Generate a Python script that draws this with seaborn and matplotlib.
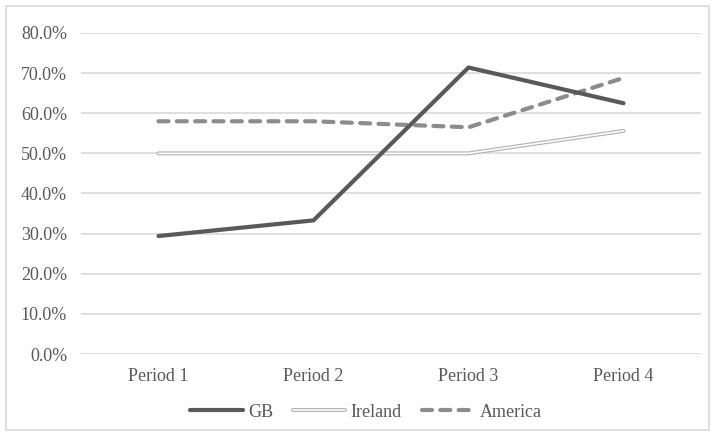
import matplotlib
matplotlib.use("Agg")
import matplotlib.pyplot as plt
from matplotlib.patches import Rectangle
from matplotlib.lines import Line2D
from matplotlib.ticker import FuncFormatter
import pandas as pd
import seaborn as sns

periods = ["Period 1", "Period 2", "Period 3", "Period 4"]
gb = [29.4, 33.3, 71.4, 62.5]
ireland = [50.0, 50.0, 50.0, 55.6]
america = [58.0, 58.0, 56.5, 68.8]
y_ticks = [0, 10, 20, 30, 40, 50, 60, 70, 80]

sns.set_theme(style="white")
plt.rcParams["font.family"] = ["Liberation Serif", "DejaVu Serif"]

df = pd.DataFrame({"x": list(range(len(periods))) * 3,
                   "value": gb + ireland + america,
                   "series": ["GB"] * 4 + ["Ireland"] * 4 + ["America"] * 4})

fig = plt.figure(figsize=(7.15, 4.36), dpi=100)
ax = fig.add_axes([81 / 715, (436 - 354) / 436, 620 / 715, 321 / 436])

text_col = "#595959"
grid_col = "#d9d9d9"
fs = 13

for t in y_ticks:
    ax.axhline(t, color=grid_col, lw=1.2, zorder=0)

gb_df = df[df.series == "GB"]
ir_df = df[df.series == "Ireland"]
am_df = df[df.series == "America"]

am_dashes = [2.4, 2.0]

sns.lineplot(data=ir_df, x="x", y="value", ax=ax, color="#b3b3b3", lw=2.9,
             solid_capstyle="round", zorder=2, legend=False)
sns.lineplot(data=ir_df, x="x", y="value", ax=ax, color="white", lw=1.2,
             solid_capstyle="round", zorder=2.1, legend=False)
sns.lineplot(data=am_df, x="x", y="value", ax=ax, color="#8c8c8c", lw=3.0,
             dash_capstyle="round", zorder=3, legend=False)
ax.lines[-1].set_dashes(am_dashes)
sns.lineplot(data=gb_df, x="x", y="value", ax=ax, color="#595959", lw=3.0,
             solid_capstyle="round", zorder=4, legend=False)

ax.set_xlim(-0.5, len(periods) - 0.5)
ax.set_ylim(0, 80)
ax.set_yticks(y_ticks)
ax.yaxis.set_major_formatter(FuncFormatter(lambda v, p: f"{v:.1f}%"))
ax.set_xticks(range(len(periods)))
ax.set_xticklabels(periods)
ax.tick_params(axis="both", colors=text_col, labelsize=fs, length=0)
ax.tick_params(axis="y", pad=10)
ax.tick_params(axis="x", pad=10)
ax.set_xlabel("")
ax.set_ylabel("")
for s in ax.spines.values():
    s.set_visible(False)

# outer chart border
fig.patches.append(Rectangle((6 / 715, 6 / 436), 703 / 715, 424 / 436,
                             transform=fig.transFigure, fill=False,
                             edgecolor=grid_col, lw=1.2))

h_gb = Line2D([], [], color="#595959", lw=3.0, solid_capstyle="round")
h_ir = (Line2D([], [], color="#b3b3b3", lw=2.9, solid_capstyle="round"),
        Line2D([], [], color="white", lw=1.2, solid_capstyle="round"))
h_am = Line2D([], [], color="#8c8c8c", lw=3.0, dash_capstyle="round",
              dashes=am_dashes)
leg = fig.legend([h_gb, h_ir, h_am], ["GB", "Ireland", "America"],
                 loc="center", bbox_to_anchor=(366 / 715, 1 - 412 / 436),
                 ncol=3, frameon=False, fontsize=fs, handlelength=2.9,
                 handletextpad=0.3, columnspacing=1.1, labelcolor=text_col)

fig.savefig("out.png", dpi=100)
